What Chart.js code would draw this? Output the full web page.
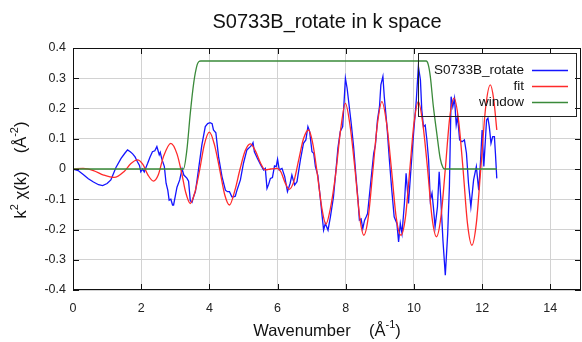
<!DOCTYPE html>
<html lang="en">
<head>
<meta charset="UTF-8">
<title>S0733B_rotate in k space</title>
<script src="https://cdn.jsdelivr.net/npm/chart.js"></script>
<style>
  html, body { margin: 0; padding: 0; background: #fff; overflow: hidden; }
</style>
</head>
<body>
<canvas id="chart" width="582" height="342"></canvas>
<script>
// measured data (k in 1/Angstrom, k^2 chi(k))
const dataK = [0.0, 0.15, 0.3, 0.45, 0.6, 0.75, 0.87, 1.0, 1.11, 1.26, 1.41, 1.52, 1.6, 1.68, 1.75, 1.82, 1.89, 1.95, 1.99, 2.04,
  2.09, 2.14, 2.19, 2.26, 2.33, 2.4, 2.46, 2.53, 2.56, 2.6, 2.68, 2.73, 2.78, 2.82, 2.87, 2.92, 2.95, 3.0, 3.05, 3.13,
  3.2, 3.25, 3.34, 3.39, 3.44, 3.49, 3.54, 3.59, 3.64, 3.68, 3.78, 3.88, 3.95, 4.02, 4.08, 4.12, 4.19, 4.27, 4.37, 4.47,
  4.53, 4.59, 4.66, 4.71, 4.76, 4.81, 4.91, 5.0, 5.1, 5.2, 5.25, 5.28, 5.32, 5.41, 5.51, 5.59, 5.64, 5.69, 5.74, 5.79,
  5.85, 5.91, 5.96, 6.0, 6.05, 6.13, 6.21, 6.29, 6.37, 6.42, 6.5, 6.57, 6.67, 6.76, 6.83, 6.89, 6.94, 7.01, 7.06, 7.11,
  7.18, 7.25, 7.32, 7.35, 7.4, 7.48, 7.55, 7.64, 7.74, 7.77, 7.84, 7.91, 7.99, 8.04, 8.08, 8.16, 8.23, 8.3, 8.36, 8.4,
  8.45, 8.5, 8.55, 8.6, 8.64, 8.72, 8.82, 8.87, 8.93, 8.99, 9.03, 9.09, 9.13, 9.21, 9.28, 9.35, 9.42, 9.5, 9.55, 9.6,
  9.65, 9.72, 9.77, 9.84, 9.91, 9.99, 10.07, 10.13, 10.19, 10.23, 10.28, 10.33, 10.38, 10.43, 10.48, 10.53, 10.57, 10.62, 10.69, 10.74,
  10.79, 10.85, 10.92, 10.99, 11.04, 11.09, 11.14, 11.19, 11.24, 11.28, 11.34, 11.41, 11.48, 11.54, 11.6, 11.63, 11.67, 11.75, 11.83, 11.9,
  11.95, 12.0, 12.05, 12.13, 12.17, 12.21, 12.26, 12.31, 12.36, 12.39, 12.43];
const dataChi = [0, -0.005, -0.018, -0.032, -0.043, -0.052, -0.055, -0.048, -0.036, 0.005, 0.035, 0.052, 0.063, 0.057, 0.05, 0.04, 0.024, 0.012, -0.009, 0.0,
  -0.01, 0.005, 0.019, 0.04, 0.057, 0.06, 0.074, 0.047, 0.055, 0.035, 0.008, -0.047, -0.07, -0.103, -0.1, -0.119, -0.119, -0.09, -0.06, -0.036,
  0.0, -0.02, -0.03, -0.04, -0.105, -0.11, -0.09, -0.075, -0.036, -0.003, 0.08, 0.14, 0.15, 0.153, 0.15, 0.129, 0.12, 0.04, -0.025, -0.07,
  -0.075, -0.075, -0.092, -0.092, -0.09, -0.07, -0.036, 0.019, 0.063, 0.074, 0.08, 0.087, 0.057, 0.035, 0.013, -0.003, 0.002, -0.064, -0.05, -0.031,
  -0.028, 0.01, 0.008, 0.032, -0.003, 0.002, -0.025, -0.075, -0.047, -0.02, -0.053, -0.042, 0.03, 0.085, 0.096, 0.14, 0.124, 0.057, 0.052, 0.008,
  -0.02, -0.092, -0.169, -0.202, -0.18, -0.202, -0.158, -0.092, 0.03, 0.069, 0.124, 0.14, 0.3, 0.267, 0.228, 0.151, 0.074, -0.025, -0.103, -0.169,
  -0.165, -0.197, -0.17, -0.158, -0.147, -0.058, 0.052, 0.079, 0.162, 0.206, 0.278, 0.306, 0.239, 0.14, 0.03, -0.07, -0.158, -0.18, -0.241, -0.18,
  -0.213, -0.114, -0.014, -0.114, -0.003, 0.118, 0.228, 0.339, 0.295, 0.195, 0.14, 0.145, 0.096, 0.03, -0.103, -0.08, -0.125, -0.191, -0.125, -0.009,
  -0.103, -0.235, -0.351, -0.213, -0.058, 0.239, 0.206, 0.234, 0.146, 0.173, 0.096, 0.09, 0.096, 0.052, -0.047, -0.08, -0.125, -0.036, 0.008, -0.07,
  0.019, 0.129, 0.008, 0.162, 0.168, 0.14, 0.085, 0.107, 0.107, 0.052, -0.031];

// fit
const fitK = [0, 0.3, 0.6, 0.9, 1.21, 1.5, 1.7, 1.89, 2.05, 2.2, 2.36, 2.5, 2.65, 2.87, 3.05, 3.2, 3.3, 3.44, 3.58, 3.72,
  3.85, 4.0, 4.15, 4.3, 4.45, 4.59, 4.75, 4.9, 5.05, 5.2, 5.35, 5.5, 5.64, 5.8, 5.98, 6.1, 6.22, 6.34, 6.48, 6.62,
  6.76, 6.91, 7.04, 7.17, 7.3, 7.42, 7.55, 7.7, 7.85, 7.99, 8.13, 8.27, 8.41, 8.53, 8.66, 8.8, 8.93, 9.06, 9.2, 9.34,
  9.48, 9.62, 9.75, 9.88, 10.0, 10.13, 10.26, 10.4, 10.53, 10.66, 10.79, 10.92, 11.05, 11.18, 11.31, 11.44, 11.57, 11.7, 11.83, 11.96,
  12.1, 12.24, 12.34, 12.43];
const fitChi = [0, 0.002, -0.005, -0.02, -0.028, -0.008, 0.018, 0.03, 0.015, -0.02, -0.04, -0.02, 0.04, 0.085, 0.05, -0.02, -0.075, -0.114, -0.075, 0.0,
  0.08, 0.122, 0.08, 0.0, -0.085, -0.119, -0.07, 0.0, 0.06, 0.083, 0.06, 0.02, -0.003, 0.0, 0.002, -0.01, -0.045, -0.067, -0.04, 0.03,
  0.1, 0.129, 0.08, -0.02, -0.13, -0.182, -0.13, -0.02, 0.13, 0.217, 0.14, 0.0, -0.16, -0.219, -0.16, 0.0, 0.15, 0.223, 0.15, 0.0,
  -0.16, -0.219, -0.16, 0.0, 0.15, 0.223, 0.15, 0.0, -0.16, -0.224, -0.16, 0.0, 0.17, 0.234, 0.16, 0.0, -0.18, -0.252, -0.18, 0.0,
  0.2, 0.278, 0.23, 0.129];

// FT window
const winK = [0, 3.24, 3.34, 3.44, 3.54, 3.64, 3.69, 3.75, 10.36, 10.42, 10.48, 10.57, 10.67, 10.77, 10.85, 10.9, 12.43];
const winVal = [0, 0, 0.063, 0.184, 0.284, 0.344, 0.355, 0.357, 0.357, 0.345, 0.306, 0.206, 0.118, 0.035, 0.005, 0, 0];

const xTicks = [0, 2, 4, 6, 8, 10, 12, 14];
const labels = ['S0733B_rotate', 'fit', 'window'];
const colors = ['#1414ff', '#ff2a2a', '#3a8a3a'];

const pts = (xs, ys) => xs.map((x, i) => ({ x: x, y: ys[i] }));
const FONT = '"Liberation Sans", Arial, sans-serif';

// frame, inward ticks, titles and the legend box
const decorations = {
  id: 'decorations',
  beforeDatasetsDraw(chart) {
    const ctx = chart.ctx;
    ctx.save();
    ctx.fillStyle = '#fff';
    ctx.fillRect(418, 53, 158, 63);
    ctx.restore();
  },
  afterDraw(chart) {
    const { ctx, chartArea: a, scales: { x, y } } = chart;
    ctx.save();
    ctx.strokeStyle = '#111';
    ctx.lineWidth = 1;
    ctx.strokeRect(a.left + 0.5, a.top + 0.5, a.right - a.left - 1, a.bottom - a.top - 1);
    ctx.beginPath();
    x.ticks.forEach(t => {
      const px = Math.round(x.getPixelForValue(t.value)) + 0.5;
      ctx.moveTo(px, a.bottom); ctx.lineTo(px, a.bottom - 6);
      ctx.moveTo(px, a.top); ctx.lineTo(px, a.top + 6);
    });
    y.ticks.forEach(t => {
      const py = Math.round(y.getPixelForValue(t.value)) + 0.5;
      ctx.moveTo(a.left, py); ctx.lineTo(a.left + 6, py);
      ctx.moveTo(a.right, py); ctx.lineTo(a.right - 6, py);
    });
    ctx.stroke();

    ctx.fillStyle = '#111';
    ctx.textBaseline = 'middle';

    // title
    ctx.font = '20px ' + FONT;
    ctx.textAlign = 'center';
    ctx.fillText('S0733B_rotate in k space', (a.left + a.right) / 2, 22);

    // axis titles with superscripts
    const drawParts = (parts, cx, cy, rot) => {
      ctx.save();
      ctx.translate(cx, cy);
      ctx.rotate(rot);
      ctx.textAlign = 'left';
      let w = 0;
      parts.forEach(p => { ctx.font = p[1] + 'px ' + FONT; w += ctx.measureText(p[0]).width; });
      let px = -w / 2;
      parts.forEach(p => {
        ctx.font = p[1] + 'px ' + FONT;
        ctx.fillText(p[0], px, p[2]);
        px += ctx.measureText(p[0]).width;
      });
      ctx.restore();
    };
    drawParts([['Wavenumber    (Å', 16.5, 0], ['-1', 11, -6], [')', 16.5, 0]], (a.left + a.right) / 2, 331, 0);
    drawParts([['k', 16.5, 0], ['2', 11, -6], [' χ(k)    (Å', 16.5, 0], ['-2', 11, -6], [')', 16.5, 0]], 21, 170, -Math.PI / 2);

    // legend
    ctx.strokeStyle = '#222';
    ctx.strokeRect(418.5, 53.5, 158, 63);
    ctx.font = '13.5px ' + FONT;
    ctx.textAlign = 'right';
    labels.forEach((lab, i) => {
      const ly = 70 + i * 16;
      ctx.fillStyle = '#111';
      ctx.fillText(lab, 524, ly);
      ctx.strokeStyle = colors[i];
      ctx.lineWidth = 1.3;
      ctx.beginPath();
      ctx.moveTo(532, ly + 0.5); ctx.lineTo(568, ly + 0.5);
      ctx.stroke();
    });
    ctx.restore();
  }
};

new Chart(document.getElementById('chart'), {
  type: 'line',
  data: {
    datasets: [
      { label: labels[0], data: pts(dataK, dataChi), borderColor: colors[0], borderWidth: 1.3, pointRadius: 0, tension: 0, order: 2 },
      { label: labels[1], data: pts(fitK, fitChi), borderColor: colors[1], borderWidth: 1.3, pointRadius: 0, cubicInterpolationMode: 'monotone', order: 1 },
      { label: labels[2], data: pts(winK, winVal), borderColor: colors[2], borderWidth: 1.3, pointRadius: 0, cubicInterpolationMode: 'monotone', order: 0 }
    ]
  },
  options: {
    responsive: false,
    animation: false,
    devicePixelRatio: 1,
    layout: { padding: { top: 48, right: 1, left: 0, bottom: 0 } },
    plugins: { legend: { display: false }, title: { display: false }, tooltip: { enabled: false } },
    scales: {
      x: {
        type: 'linear', min: 0, max: 14.9,
        afterFit: s => { s.height = 52; },
        afterBuildTicks: s => { s.ticks = xTicks.map(v => ({ value: v })); },
        grid: { color: '#d2d2d2', drawTicks: false },
        border: { display: false },
        ticks: { color: '#222', padding: 11, font: { size: 12.5, family: FONT } }
      },
      y: {
        min: -0.4, max: 0.4,
        afterFit: s => { s.width = 73; },
        grid: { color: '#d2d2d2', drawTicks: false },
        border: { display: false },
        ticks: { stepSize: 0.1, color: '#222', padding: 7, font: { size: 12.5, family: FONT } }
      }
    }
  },
  plugins: [decorations]
});
</script>
</body>
</html>
